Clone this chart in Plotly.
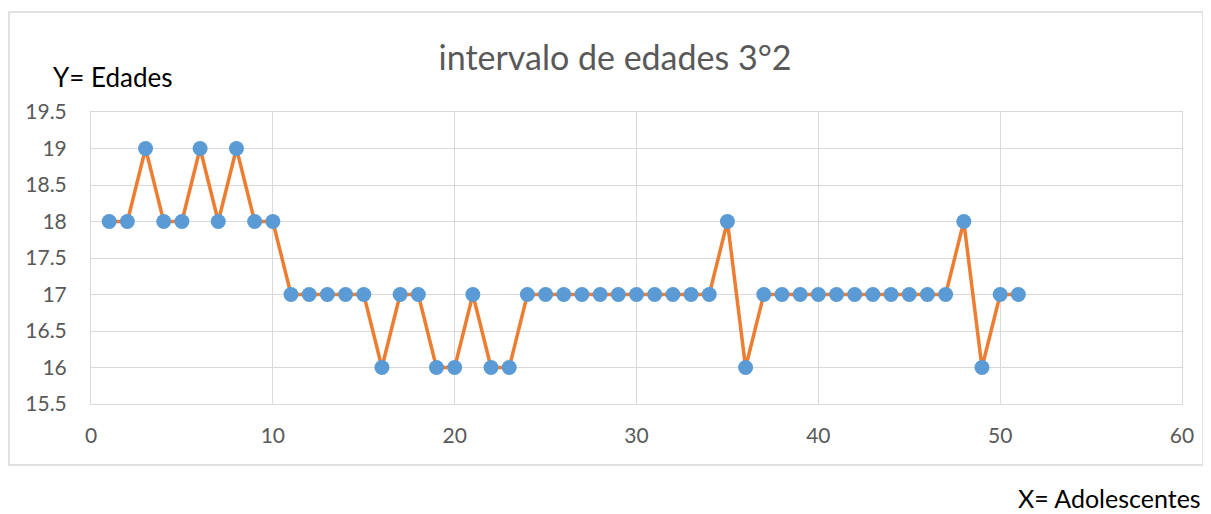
import plotly.graph_objects as go

adolescentes = list(range(1, 52))
edades = [18, 18, 19, 18, 18, 19, 18, 19, 18, 18,
          17, 17, 17, 17, 17, 16, 17, 17, 16, 16,
          17, 16, 16, 17, 17, 17, 17, 17, 17, 17,
          17, 17, 17, 17, 18, 16, 17, 17, 17, 17,
          17, 17, 17, 17, 17, 17, 17, 18, 16, 17, 17]

FONT = "Lato"
GRAY = "#595959"
GRID = "#d9d9d9"

# page body has an 8px margin: work in figure coordinates = page - 8
OFF = 8
W, H = 1211 - OFF, 514 - OFF
L = 91 - OFF
R = W - (1182 - OFF)
T = 112 - OFF
B = H - (404 - OFF)
pw, ph = W - L - R, H - T - B


def px(xp):
    return (xp - OFF - L) / pw


def py(yp):
    return (H - B - (yp - OFF)) / ph


fig = go.Figure(go.Scatter(
    x=adolescentes, y=edades, mode="lines+markers",
    line=dict(color="#ED7D31", width=3.5),
    marker=dict(color="#5B9BD5", size=15),
))

fig.update_layout(
    width=W, height=H,
    margin=dict(l=L, r=R, t=T, b=B),
    paper_bgcolor="white", plot_bgcolor="white",
    showlegend=False,
    font=dict(family=FONT, color=GRAY, size=21),
    title=dict(text="intervalo de edades 3°2", x=(615 - OFF) / W, xanchor="center",
               xref="container", y=1 - (58 - OFF) / H, yanchor="middle", yref="container",
               font=dict(size=34, color=GRAY, family=FONT)),
    xaxis=dict(range=[0, 60], dtick=10, showgrid=True, gridcolor=GRID, gridwidth=1,
               zeroline=False, showline=True, mirror=True, linecolor=GRID,
               ticks="", ticklabelstandoff=13, tickfont=dict(size=21, color=GRAY)),
    yaxis=dict(range=[15.5, 19.5], dtick=0.5, showgrid=True, gridcolor=GRID, gridwidth=1,
               zeroline=False, showline=True, mirror=True, linecolor=GRID,
               ticks="", ticklabelstandoff=19, tickfont=dict(size=21, color=GRAY)),
    shapes=[dict(type="rect", xref="paper", yref="paper",
                 x0=px(9), x1=px(1203), y0=py(465), y1=py(12),
                 line=dict(color=GRID, width=1.5), layer="below")],
    annotations=[
        dict(text="Y= Edades", xref="paper", yref="paper",
             x=px(51), xanchor="left", y=py(77), yanchor="middle",
             showarrow=False, font=dict(size=26, color="black", family=FONT)),
        dict(text="X= Adolescentes", xref="paper", yref="paper",
             x=px(1203), xanchor="right", y=py(498), yanchor="middle",
             showarrow=False, font=dict(size=25, color="black", family=FONT)),
    ],
)

fig.write_html("out.html")
